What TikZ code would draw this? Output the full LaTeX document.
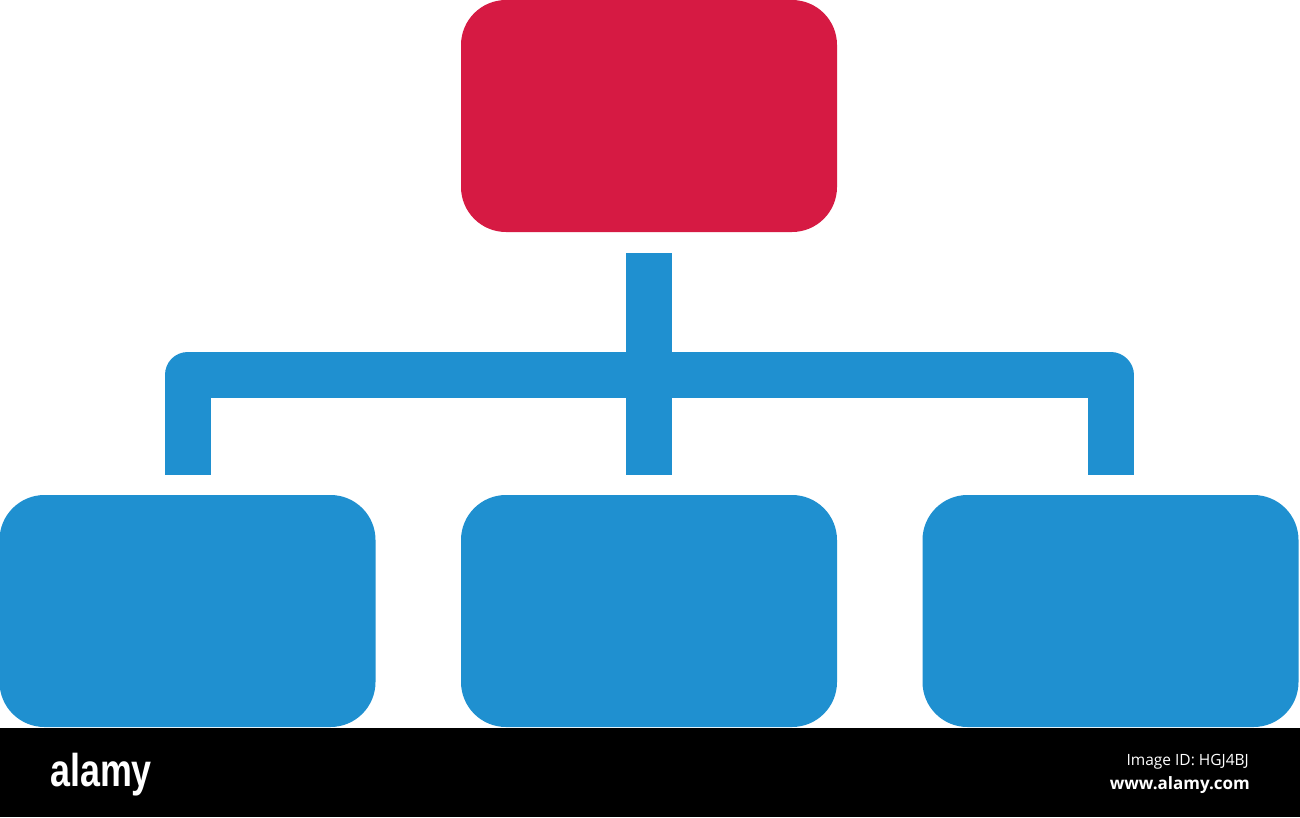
\documentclass[tikz,border=0pt]{standalone}
\usepackage{fontspec}
\setmainfont{Liberation Sans}
\newfontfamily\opensans{Open Sans}
\definecolor{redc}{HTML}{D61A43}
\definecolor{bluec}{HTML}{1F90D0}
\tikzset{
  box/.style={draw=none, minimum width=376pt, minimum height=232pt, rounded corners=45pt, inner sep=0pt},
  bluebox/.style={box, fill=bluec},
  redbox/.style={box, fill=redc},
  bus/.style={draw=bluec, line width=46pt, line cap=butt, line join=round},
}
\begin{document}
\begin{tikzpicture}[x=1pt,y=-1pt]
\useasboundingbox (0,0) rectangle (1300,817);
\fill[white] (0,0) rectangle (1300,817);
% boxes
\node[redbox] (top) at (649,116) {};
\node[bluebox] (left) at (187.5,611) {};
\node[bluebox] (mid) at (649,611) {};
\node[bluebox] (right) at (1110.5,611) {};
% bus
\coordinate (bar) at (649,375);
\draw[bus] ([yshift=-21pt]top.south) -- ([yshift=20pt]mid.north);
\draw[bus] ([yshift=20pt]left.north) -- (left.north |- bar) -- (right.north |- bar) -- ([yshift=20pt]right.north);
% bottom bar
\fill[black] (0,728) rectangle (1300,817);
\node[text=white, font=\bfseries\fontsize{46}{46}\selectfont, xscale=0.78, inner sep=0pt, anchor=base west] (logo) at (50,786) {alamy};
\node[text=white, font=\opensans\fontsize{15.5}{16}\selectfont, inner sep=0pt, anchor=base east] (imgid) at (1249,765) {Image ID: HGJ4BJ};
\node[text=white, font=\opensans\bfseries\fontsize{17}{18}\selectfont, inner sep=0pt, anchor=base east] (url) at (1250,789) {www.alamy.com};
\end{tikzpicture}
\end{document}
